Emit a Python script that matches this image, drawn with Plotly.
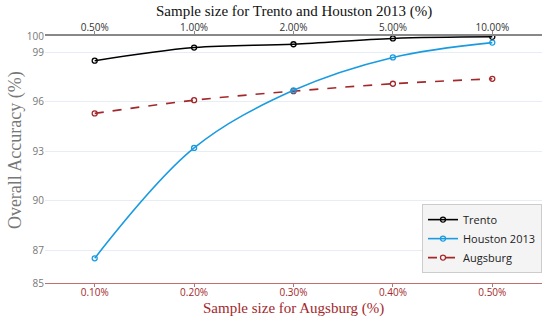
import plotly.graph_objects as go

top_labels = ["0.50%", "1.00%", "2.00%", "5.00%", "10.00%"]
bottom_labels = ["0.10%", "0.20%", "0.30%", "0.40%", "0.50%"]
trento = [98.5, 99.3, 99.5, 99.85, 99.95]
houston = [86.5, 93.2, 96.7, 98.7, 99.6]
augsburg = [95.3, 96.1, 96.65, 97.1, 97.4]
y_ticks = [85, 87, 90, 93, 96, 99, 100]

serif = "Liberation Serif, Times New Roman, serif"
sans = "Open Sans, Noto Sans, sans-serif"

fig = go.Figure()
fig.add_trace(go.Scatter(x=top_labels, y=trento, name="Trento", xaxis="x2",
                         mode="lines+markers", line=dict(color="#000000", width=1.6, shape="spline"),
                         marker=dict(symbol="circle-open", size=5, color="#000000", line=dict(width=1.3))))
fig.add_trace(go.Scatter(x=top_labels, y=houston, name="Houston 2013", xaxis="x2",
                         mode="lines+markers", line=dict(color="#1a9be0", width=1.6, shape="spline"),
                         marker=dict(symbol="circle-open", size=5, color="#1a9be0", line=dict(width=1.3))))
fig.add_trace(go.Scatter(x=bottom_labels, y=augsburg, name="Augsburg", xaxis="x",
                         mode="lines+markers", line=dict(color="#a3282b", width=1.6, dash="dash", shape="spline"),
                         marker=dict(symbol="circle-open", size=5, color="#a3282b", line=dict(width=1.3))))

fig.update_layout(
    width=550, height=322,
    margin=dict(l=45, r=8, t=36, b=39, autoexpand=False),
    plot_bgcolor="white", paper_bgcolor="white",
    font=dict(family=sans, size=10, color="#666666"),
    xaxis=dict(type="category", categoryorder="array", categoryarray=bottom_labels,
               range=[-0.5, 4.5], showgrid=False, showline=True, linecolor="#c07070", linewidth=1.2,
               tickfont=dict(color="#a3282b", size=10, family=sans), ticks="outside", ticklen=3,
               tickcolor="#c07070", automargin=False, ticklabelstandoff=-3, zeroline=False),
    xaxis2=dict(type="category", categoryorder="array", categoryarray=top_labels,
                range=[-0.5, 4.5], overlaying="x", side="top", showgrid=False, showline=True,
                linecolor="#888888", linewidth=2, ticks="outside", ticklen=3, tickcolor="#888888",
                tickfont=dict(color="#333333", size=10, family=sans), automargin=False,
                ticklabelstandoff=-4, zeroline=False),
    yaxis=dict(range=[85, 100], tickvals=y_ticks, showgrid=True, gridcolor="#e6edf5", gridwidth=1,
               tickfont=dict(color="#777777", size=10, family=sans), zeroline=False, showline=False,
               automargin=False),
    legend=dict(x=1.0, y=0.04, xanchor="right", yanchor="bottom", bgcolor="#f4f4f4",
                bordercolor="#cccccc", borderwidth=1, font=dict(family=sans, size=11, color="#222222"),
                tracegroupgap=0, itemwidth=30),
    showlegend=True,
    annotations=[
        dict(text="Sample size for Trento and Houston 2013 (%)", xref="paper", yref="paper",
             x=0.5, y=1, yshift=25, xanchor="center", yanchor="middle", showarrow=False,
             font=dict(family=serif, size=15, color="#111111")),
        dict(text="Sample size for Augsburg (%)", xref="paper", yref="paper",
             x=0.5, y=0, yshift=-25, xanchor="center", yanchor="middle", showarrow=False,
             font=dict(family=serif, size=15, color="#a3282b")),
        dict(text="Overall Accuracy (%)", xref="paper", yref="paper",
             x=0, xshift=-30, y=0.538, xanchor="center", yanchor="middle", showarrow=False,
             textangle=-90, font=dict(family=serif, size=18, color="#777777")),
    ],
)

fig.write_html("out.html", config={"displayModeBar": False},
               post_script="document.body.style.margin='0';")
